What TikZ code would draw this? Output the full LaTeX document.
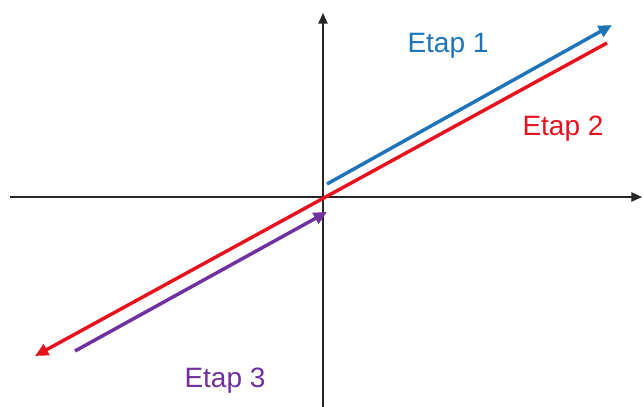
\documentclass[tikz,border=0pt]{standalone}
\usepackage{fontspec}
\setmainfont{Liberation Sans}
\usetikzlibrary{arrows.meta}
\definecolor{stepblue}{RGB}{30,115,185}
\definecolor{stepred}{RGB}{230,18,30}
\definecolor{steppurple}{RGB}{112,48,160}
\tikzset{
  axis/.style={line width=0.9pt, black!85, -{Triangle[length=8pt,width=7pt]}},
  stepline/.style={line width=2.6pt, -{Triangle[length=10pt,width=9pt]}},
  steplabel/.style={anchor=base, inner sep=0pt, font=\fontsize{21}{25}\selectfont}
}
\begin{document}
\begin{tikzpicture}[x=0.75pt, y=-0.75pt]
  \useasboundingbox (0,0) rectangle (643,407);
  % axes
  \coordinate (xl) at (10,197);
  \coordinate (xr) at (642,197);
  \coordinate (yb) at (323,407);
  \coordinate (yt) at (323,13);
  \draw[axis] (xl) -- (xr);
  \draw[axis] (yb) -- (yt);
  % steps
  \coordinate (b1) at (327,184);
  \coordinate (b2) at (612,25);
  \coordinate (r1) at (607,43);
  \coordinate (r2) at (35,356);
  \coordinate (p1) at (75,351);
  \coordinate (p2) at (327,212);
  \draw[stepline, stepblue] (b1) -- (b2);
  \draw[stepline, stepred] (r1) -- (r2);
  \draw[stepline, steppurple] (p1) -- (p2);
  % labels
  \node[steplabel, text=stepblue] (etap1) at (448,52) {Etap 1};
  \node[steplabel, text=stepred] (etap2) at (563,135) {Etap 2};
  \node[steplabel, text=steppurple] (etap3) at (225,387) {Etap 3};
\end{tikzpicture}
\end{document}
